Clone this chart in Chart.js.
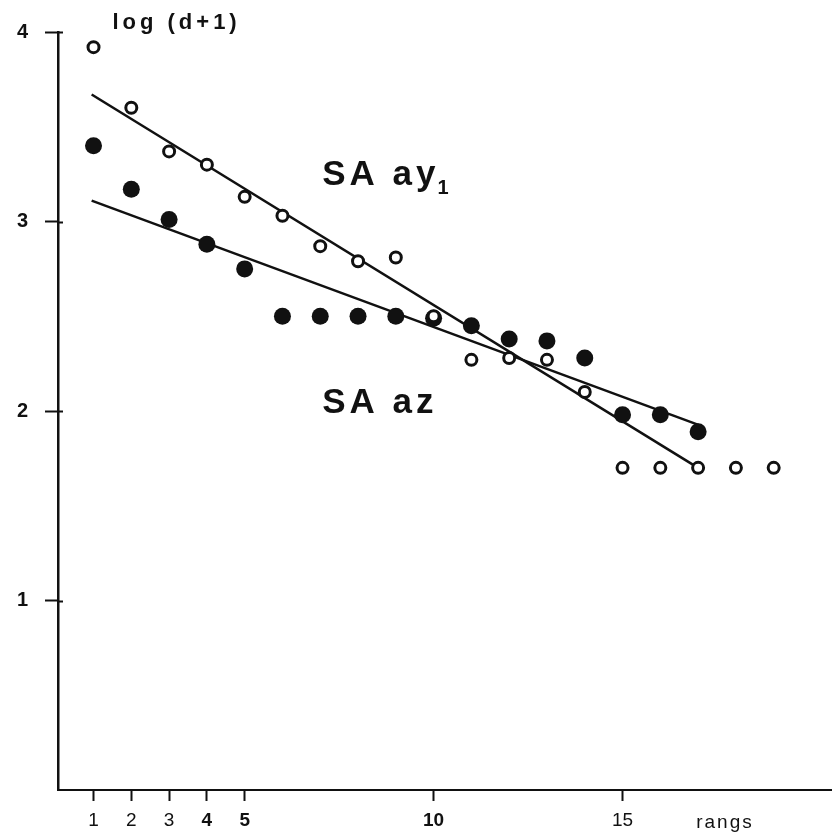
<!DOCTYPE html>
<html>
<head>
<meta charset="utf-8">
<script src="https://cdn.jsdelivr.net/npm/chart.js@4/dist/chart.umd.min.js"></script>
<style>
  html, body { margin: 0; padding: 0; background: #fff; }
  #wrap { width: 840px; height: 840px; }
</style>
</head>
<body>
<div id="wrap"><canvas id="c" width="840" height="840"></canvas></div>
<script>
// Rank-abundance data: log(d+1) against rank for two stations
const ay1Ranks  = [1, 2, 3, 4, 5, 6, 7, 8, 9, 10, 11, 12, 13, 14, 15, 16, 17, 18, 19];
const ay1Values = [3.92, 3.60, 3.37, 3.30, 3.13, 3.03, 2.87, 2.79, 2.81, 2.50, 2.27, 2.28, 2.27, 2.10, 1.70, 1.70, 1.70, 1.70, 1.70];

const azRanks  = [1, 2, 3, 4, 5, 6, 7, 8, 9, 10, 11, 12, 13, 14, 15, 16, 17];
const azValues = [3.40, 3.17, 3.01, 2.88, 2.75, 2.50, 2.50, 2.50, 2.50, 2.49, 2.45, 2.38, 2.37, 2.28, 1.98, 1.98, 1.89];

// Fitted regression lines (end points)
const ay1FitX = [0.95, 17.0];
const ay1FitY = [3.67, 1.70];
const azFitX  = [0.95, 17.1];
const azFitY  = [3.11, 1.92];

// Axis ticks
const xTickValues = [1, 2, 3, 4, 5, 10, 15];
const yTickValues = [1, 2, 3, 4];

const FONT = '"Liberation Sans", Arial, Helvetica, sans-serif';

const toPoints = (xs, ys) => xs.map((x, i) => ({ x: x, y: ys[i] }));

// Free text: axis caption, series names and the rank label
const labelsPlugin = {
  id: 'labels',
  afterDraw(chart) {
    const ctx = chart.ctx;
    const xs = chart.scales.x, ys = chart.scales.y;
    ctx.save();
    ctx.fillStyle = '#111';
    ctx.textBaseline = 'alphabetic';
    ctx.textAlign = 'left';

    // right-hand stubs of the y tick marks
    ctx.strokeStyle = '#111';
    ctx.lineWidth = 2;
    yTickValues.forEach(v => {
      const py = Math.round(ys.getPixelForValue(v)) + 0.5;
      ctx.beginPath();
      ctx.moveTo(xs.left, py);
      ctx.lineTo(xs.left + 5, py);
      ctx.stroke();
    });

    // y axis caption
    ctx.font = 'bold 22px ' + FONT;
    ctx.letterSpacing = '4px';
    ctx.fillText('log (d+1)', xs.getPixelForValue(1.5), 29);

    // series names
    ctx.font = 'bold 35px ' + FONT;
    ctx.letterSpacing = '4px';
    const ax = xs.getPixelForValue(7.05);
    const yAy = ys.getPixelForValue(3.19);
    ctx.fillText('SA ay', ax, yAy);
    const w = ctx.measureText('SA ay').width;
    ctx.font = 'bold 20px ' + FONT;
    ctx.letterSpacing = '0px';
    ctx.fillText('1', ax + w - 2, yAy + 9);

    ctx.font = 'bold 35px ' + FONT;
    ctx.letterSpacing = '4px';
    ctx.fillText('SA az', ax, ys.getPixelForValue(1.99));

    // x axis name
    ctx.font = '19px ' + FONT;
    ctx.letterSpacing = '2px';
    ctx.textBaseline = 'middle';
    ctx.fillText('rangs', xs.getPixelForValue(16.95), 823);
    ctx.restore();
  }
};

new Chart(document.getElementById('c'), {
  type: 'scatter',
  data: {
    datasets: [
      {
        label: 'SA ay1',
        data: toPoints(ay1Ranks, ay1Values),
        pointStyle: 'circle',
        pointRadius: 5.5,
        pointBorderWidth: 3,
        pointBackgroundColor: '#fff',
        pointBorderColor: '#111',
        order: 0
      },
      {
        label: 'SA az',
        data: toPoints(azRanks, azValues),
        pointStyle: 'circle',
        pointRadius: 8.5,
        pointBorderWidth: 0,
        pointBackgroundColor: '#111',
        pointBorderColor: '#111',
        order: 1
      },
      {
        label: 'SA ay1 fit',
        data: toPoints(ay1FitX, ay1FitY),
        showLine: true,
        pointRadius: 0,
        borderColor: '#111',
        borderWidth: 2.5,
        order: 2
      },
      {
        label: 'SA az fit',
        data: toPoints(azFitX, azFitY),
        showLine: true,
        pointRadius: 0,
        borderColor: '#111',
        borderWidth: 2.5,
        order: 2
      }
    ]
  },
  options: {
    responsive: false,
    animation: false,
    devicePixelRatio: 1,
    layout: { padding: { top: 32, right: 5, left: 0, bottom: 0 } },
    plugins: {
      legend: { display: false },
      tooltip: { enabled: false },
      title: { display: false }
    },
    scales: {
      x: {
        type: 'linear',
        min: 0.06,
        max: 20.53,
        afterBuildTicks(scale) {
          scale.ticks = xTickValues.map(v => ({ value: v }));
        },
        afterFit(scale) { scale.height = 50; },
        ticks: {
          autoSkip: false,
          maxRotation: 0,
          padding: 8,
          color: '#111',
          font: (c) => ({
            family: FONT,
            size: 19,
            weight: (c.tick && [4, 5, 10].includes(c.tick.value)) ? 'bold' : 'normal'
          }),
          callback: (v) => String(v)
        },
        grid: {
          display: true,
          drawOnChartArea: false,
          drawTicks: true,
          tickLength: 11,
          tickColor: '#111',
          tickWidth: 2
        },
        border: { display: true, color: '#111', width: 2 }
      },
      y: {
        type: 'linear',
        min: 0,
        max: 4,
        afterBuildTicks(scale) {
          scale.ticks = yTickValues.map(v => ({ value: v }));
        },
        afterFit(scale) { scale.width = 58; },
        ticks: {
          autoSkip: false,
          padding: 17,
          color: '#111',
          font: { family: FONT, size: 20, weight: 'bold' },
          callback: (v) => String(v)
        },
        grid: {
          display: true,
          drawOnChartArea: false,
          drawTicks: true,
          tickLength: 13,
          tickColor: '#111',
          tickWidth: 2
        },
        border: { display: true, color: '#111', width: 2.5 }
      }
    }
  },
  plugins: [labelsPlugin]
});
</script>
</body>
</html>
